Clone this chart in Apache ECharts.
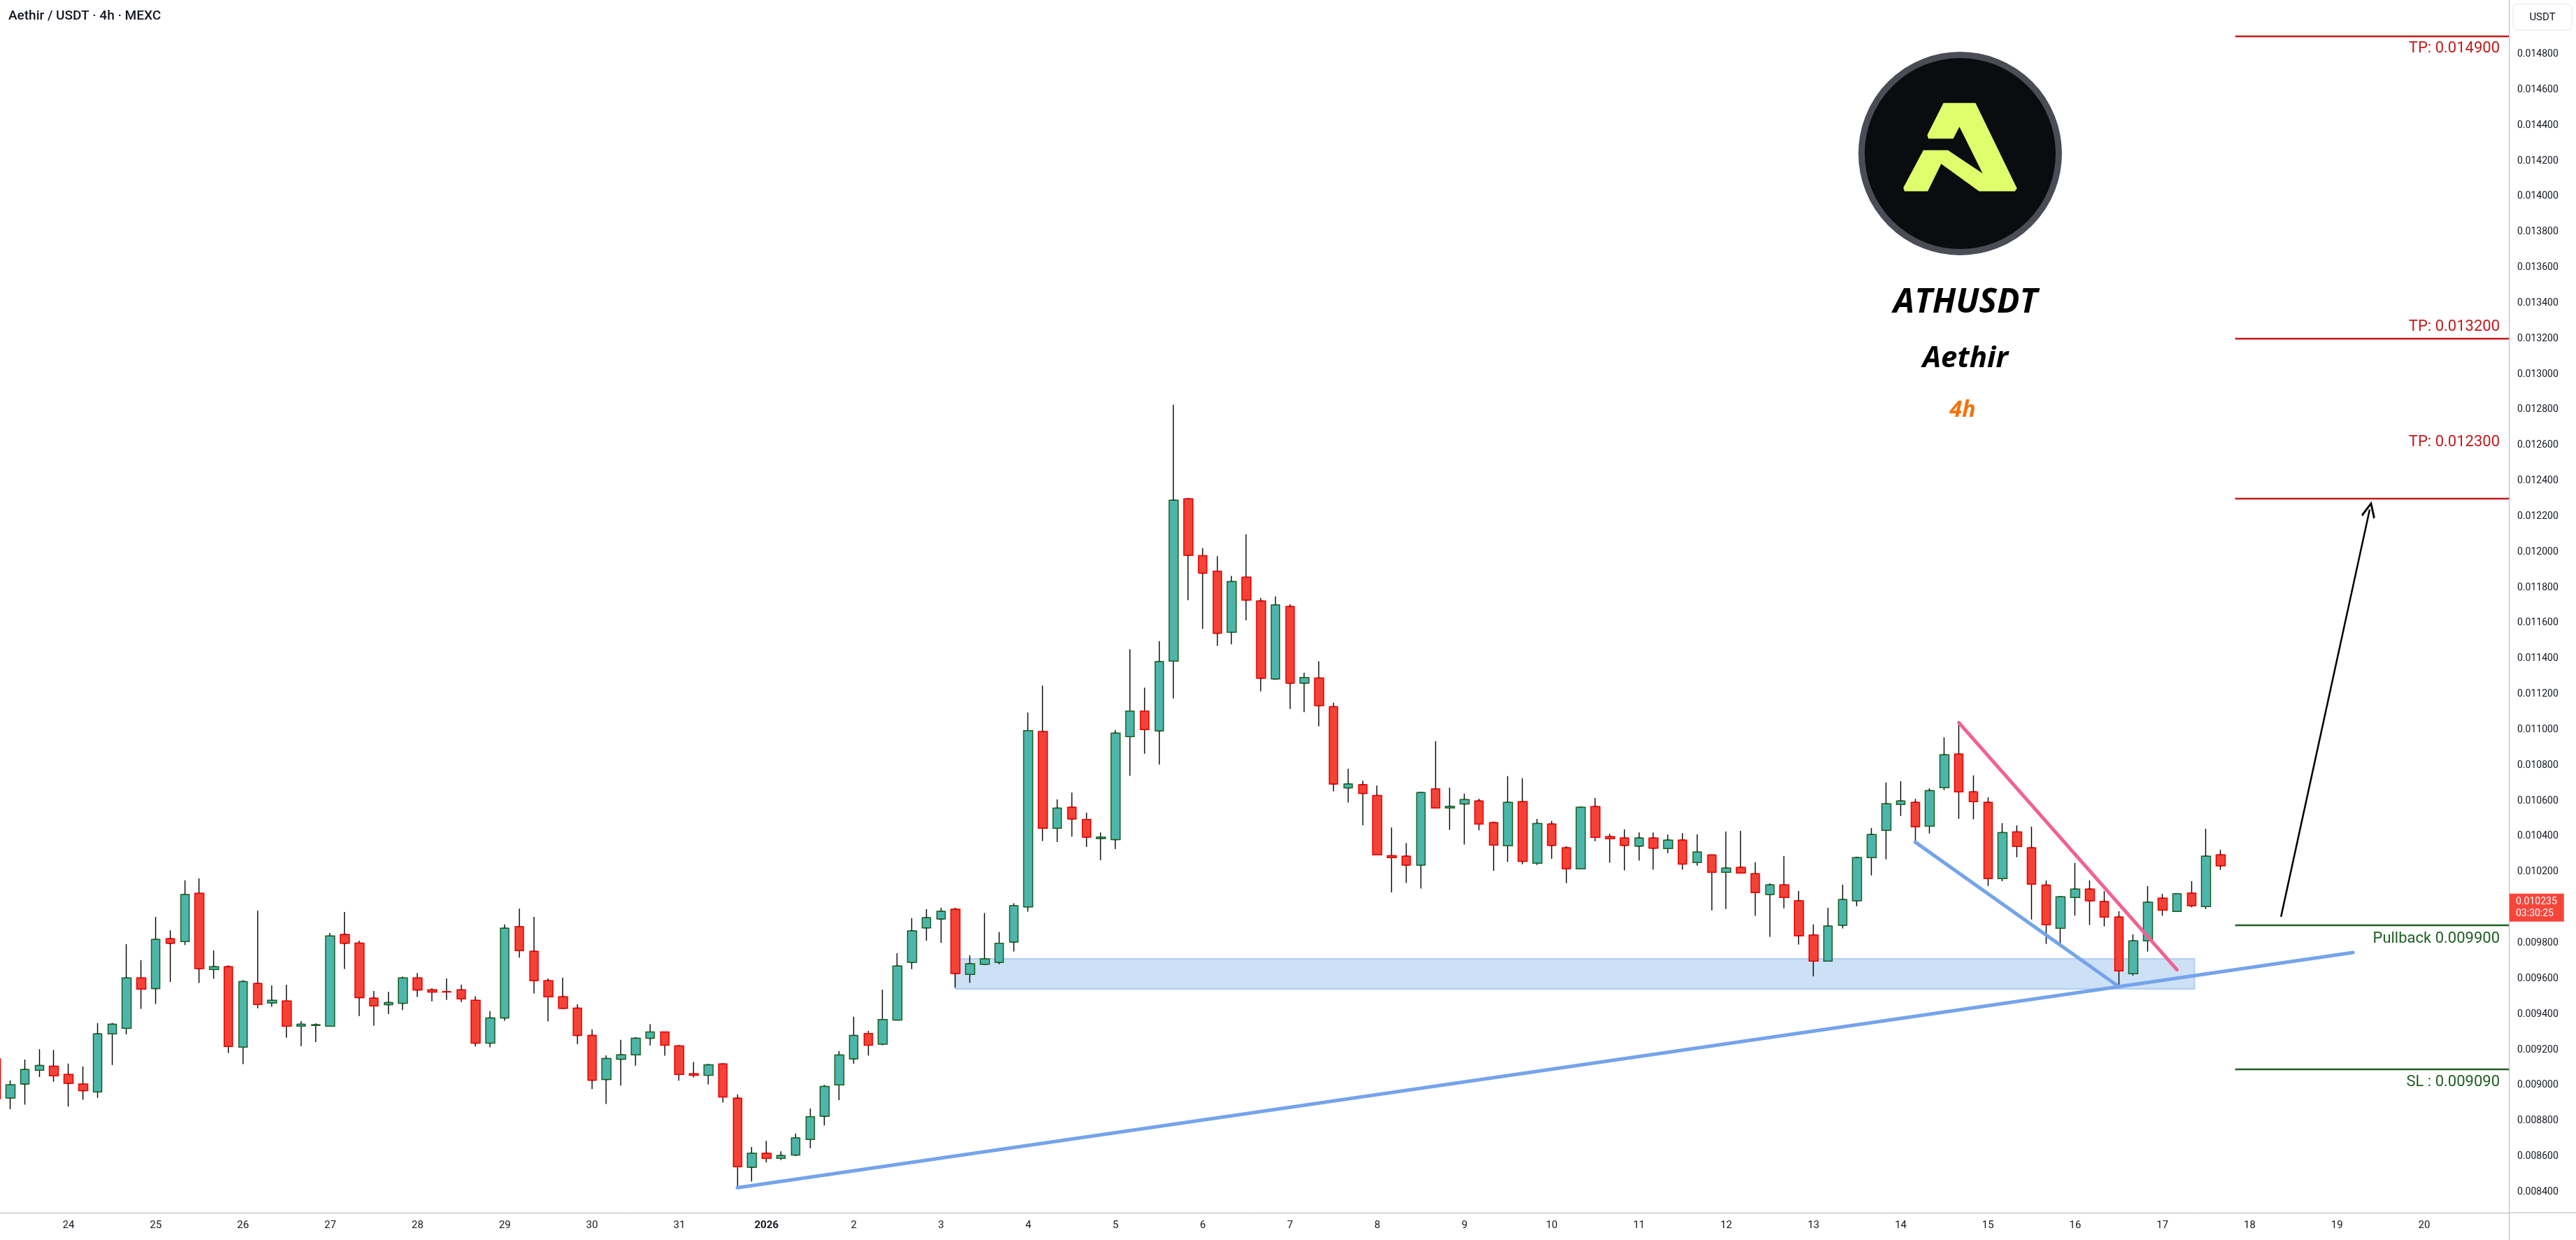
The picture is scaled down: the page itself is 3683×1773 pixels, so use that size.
<!DOCTYPE html>
<html><head><meta charset="utf-8">
<script src="https://cdn.jsdelivr.net/npm/echarts@6/dist/echarts.min.js"></script>
<style>html,body{margin:0;padding:0;background:#fff}#c{width:3683px;height:1773px}</style>
</head><body><div id="c"></div>
<script>
// ---------------- DATA ----------------
// 4h candles, first candle Dec 23 2025 04:00 (UTC), one every 4 hours
const firstCandleUTC = [2025, 11, 23, 4];
const opens = [0.009149,0.008929,0.009007,0.009085,0.009108,0.009061,0.009007,0.008963,0.009290,0.009321,
0.009604,0.009544,0.009825,0.009809,0.010080,0.009652,0.009667,0.009215,0.009573,0.009464,
0.009474,0.009333,0.009337,0.009333,0.009848,0.009800,0.009490,0.009454,0.009462,0.009604,
0.009537,0.009527,0.009537,0.009478,0.009237,0.009379,0.009892,0.009754,0.009589,0.009498,
0.009434,0.009281,0.009033,0.009147,0.009172,0.009265,0.009300,0.009222,0.009065,0.009057,
0.009120,0.008928,0.008539,0.008618,0.008589,0.008608,0.008696,0.008826,0.009002,0.009149,
0.009292,0.009232,0.009367,0.009692,0.009886,0.009936,0.009991,0.009624,0.009681,0.009692,
0.009806,0.010004,0.010990,0.010446,0.010564,0.010495,0.010388,0.010382,0.010962,0.011105,
0.010994,0.011386,0.012299,0.011979,0.011892,0.011549,0.011858,0.011725,0.011286,0.011693,
0.011262,0.011291,0.011130,0.010673,0.010691,0.010630,0.010292,0.010289,0.010239,0.010667,
0.010560,0.010583,0.010600,0.010478,0.010348,0.010596,0.010249,0.010470,0.010336,0.010218,
0.010568,0.010399,0.010391,0.010346,0.010391,0.010332,0.010379,0.010253,0.010296,0.010198,
0.010226,0.010190,0.010073,0.010128,0.010038,0.009845,0.009699,0.009900,0.010038,0.010281,
0.010434,0.010580,0.010592,0.010458,0.010674,0.010863,0.010651,0.010592,0.010163,0.010426,
0.010336,0.010127,0.009884,0.010057,0.010104,0.010034,0.009947,0.009628,0.009813,0.010053,
0.009978,0.010081,0.010006,0.010297];
const closes = [0.008925,0.009003,0.009089,0.009112,0.009054,0.009011,0.008970,0.009290,0.009344,0.009604,
0.009541,0.009821,0.009799,0.010073,0.009656,0.009667,0.009219,0.009584,0.009455,0.009478,
0.009333,0.009344,0.009341,0.009840,0.009799,0.009493,0.009447,0.009466,0.009604,0.009536,
0.009525,0.009525,0.009486,0.009237,0.009379,0.009884,0.009758,0.009589,0.009498,0.009433,
0.009281,0.009029,0.009151,0.009172,0.009265,0.009300,0.009226,0.009061,0.009057,0.009116,
0.008935,0.008542,0.008618,0.008589,0.008605,0.008704,0.008823,0.008994,0.009171,0.009281,
0.009226,0.009370,0.009671,0.009869,0.009943,0.009979,0.009629,0.009684,0.009712,0.009799,
0.010010,0.010995,0.010446,0.010559,0.010498,0.010396,0.010396,0.010981,0.011105,0.011001,
0.011383,0.012291,0.011981,0.011881,0.011543,0.011834,0.011730,0.011290,0.011702,0.011262,
0.011294,0.011136,0.010695,0.010695,0.010642,0.010297,0.010281,0.010239,0.010647,0.010560,
0.010569,0.010607,0.010470,0.010352,0.010592,0.010260,0.010473,0.010350,0.010218,0.010564,
0.010395,0.010387,0.010350,0.010391,0.010334,0.010379,0.010245,0.010312,0.010198,0.010222,
0.010194,0.010084,0.010128,0.010057,0.009841,0.009699,0.009896,0.010045,0.010281,0.010411,
0.010584,0.010600,0.010454,0.010658,0.010859,0.010651,0.010596,0.010163,0.010422,0.010344,
0.010131,0.009903,0.010061,0.010104,0.010038,0.009947,0.009644,0.009813,0.010030,0.009986,
0.010077,0.010010,0.010289,0.010235];
const lows = [0.008870,0.008866,0.008891,0.009047,0.009020,0.008880,0.008919,0.008930,0.009115,0.009287,
0.009430,0.009458,0.009582,0.009789,0.009576,0.009599,0.009181,0.009119,0.009433,0.009442,
0.009268,0.009220,0.009243,0.009330,0.009654,0.009390,0.009336,0.009401,0.009423,0.009497,
0.009473,0.009480,0.009468,0.009219,0.009214,0.009363,0.009718,0.009517,0.009359,0.009430,
0.009232,0.008979,0.008895,0.008998,0.009111,0.009224,0.009167,0.009026,0.009045,0.009005,
0.008903,0.008424,0.008459,0.008566,0.008580,0.008602,0.008646,0.008774,0.008917,0.009121,
0.009168,0.009226,0.009367,0.009653,0.009814,0.009801,0.009549,0.009577,0.009681,0.009681,
0.009753,0.009977,0.010374,0.010368,0.010399,0.010341,0.010266,0.010329,0.010741,0.010865,
0.010804,0.011176,0.011729,0.011567,0.011472,0.011481,0.011616,0.011216,0.011286,0.011117,
0.011099,0.011020,0.010654,0.010591,0.010463,0.010297,0.010085,0.010138,0.010107,0.010560,
0.010437,0.010355,0.010434,0.010206,0.010256,0.010244,0.010240,0.010274,0.010137,0.010218,
0.010373,0.010252,0.010209,0.010264,0.010213,0.010306,0.010213,0.010236,0.009984,0.009992,
0.010194,0.009953,0.009835,0.009996,0.009792,0.009613,0.009699,0.009883,0.010008,0.010181,
0.010271,0.010515,0.010368,0.010417,0.010661,0.010499,0.010496,0.010122,0.010148,0.010283,
0.009933,0.009795,0.009795,0.009954,0.009902,0.009894,0.009555,0.009617,0.009753,0.009954,
0.009978,0.010002,0.009992,0.010212];
const highs = [0.009184,0.009027,0.009145,0.009203,0.009199,0.009122,0.009106,0.009350,0.009352,0.009794,
0.009705,0.009948,0.009872,0.010153,0.010164,0.009759,0.009675,0.009592,0.009983,0.009562,
0.009566,0.009361,0.009349,0.009857,0.009975,0.009814,0.009531,0.009527,0.009612,0.009632,
0.009546,0.009601,0.009566,0.009501,0.009417,0.009905,0.009994,0.009948,0.009601,0.009605,
0.009456,0.009314,0.009169,0.009256,0.009271,0.009345,0.009302,0.009228,0.009131,0.009120,
0.009125,0.008948,0.008653,0.008688,0.008629,0.008729,0.008870,0.009002,0.009193,0.009386,
0.009306,0.009538,0.009743,0.009941,0.009991,0.009999,0.009999,0.009731,0.009969,0.009863,
0.010024,0.011097,0.011249,0.010608,0.010647,0.010534,0.010423,0.010998,0.011453,0.011237,
0.011498,0.012828,0.012300,0.012022,0.011976,0.011865,0.012099,0.011741,0.011750,0.011706,
0.011320,0.011385,0.011152,0.010781,0.010714,0.010686,0.010450,0.010363,0.010647,0.010936,
0.010674,0.010641,0.010612,0.010483,0.010739,0.010727,0.010498,0.010487,0.010345,0.010564,
0.010616,0.010416,0.010440,0.010423,0.010423,0.010411,0.010419,0.010412,0.010296,0.010427,
0.010431,0.010255,0.010136,0.010290,0.010093,0.009905,0.009999,0.010129,0.010286,0.010447,
0.010703,0.010711,0.010611,0.010670,0.010958,0.011027,0.010743,0.010620,0.010475,0.010462,
0.010455,0.010152,0.010061,0.010251,0.010153,0.010092,0.009979,0.009849,0.010121,0.010077,
0.010077,0.010148,0.010443,0.010325];
const lastPrice = 0.010235;
const countdown = '03:30:25';

// axis ticks
const xTickLabels = ['24','25','26','27','28','29','30','31','2026','2','3','4','5','6','7','8','9','10','11','12','13','14','15','16','17','18','19','20'];
const xTickStartUTC = [2025, 11, 24];
const yTickValues = [0.0084,0.0086,0.0088,0.0090,0.0092,0.0094,0.0096,0.0098,0.0100,0.0102,0.0104,0.0106,0.0108,0.0110,
0.0112,0.0114,0.0116,0.0118,0.0120,0.0122,0.0124,0.0126,0.0128,0.0130,0.0132,0.0134,0.0136,0.0138,0.0140,0.0142,0.0144,0.0146,0.0148];

// annotation levels
const levelLabels = ['TP: 0.014900','TP: 0.013200','TP: 0.012300','Pullback 0.009900','SL : 0.009090'];
const levelValues = [0.0149, 0.0132, 0.0123, 0.0099, 0.00909];
const levelKinds = ['tp','tp','tp','sl','sl'];
const levelLabelSide = ['bottom','top','top','bottom','bottom'];
const levelLabelGap = [6, 6, 70, 8, 8];
// slot index = number of 4h steps from Dec 24 00:00
const levelStartSlot = 149;
const zoneSlots = [61, 146.2];
const zonePrices = [0.009712, 0.009542];
const trendMain = [[46, 0.008424], [157.1, 0.009747]];
const trendLower = [[127, 0.010368], [141, 0.009555]];
const trendUpper = [[130, 0.011040], [145, 0.009650]];
const arrowPts = [[152.15, 0.009948], [158.25, 0.012239]];

// ---------------- BUILD ----------------
const H4 = 4 * 3600000, DAY = 86400000;
const T0 = Date.UTC(xTickStartUTC[0], xTickStartUTC[1], xTickStartUTC[2]);
const slot = n => T0 + n * H4;
const firstT = Date.UTC(firstCandleUTC[0], firstCandleUTC[1], firstCandleUTC[2], firstCandleUTC[3]);
const times = opens.map((_, i) => firstT + i * H4);
const xTickTimes = xTickLabels.map((_, i) => T0 + i * DAY);
const xMin = T0 - 0.78563 * DAY, xMax = T0 + 27.970 * DAY;
const yMin = 0.0082835, yMax = 0.0151049;

const wickData = times.map((t, i) => [t, opens[i], closes[i], lows[i], highs[i]]);
const bodyData = times.map((t, i) => [t, opens[i], closes[i], Math.min(opens[i], closes[i]), Math.max(opens[i], closes[i])]);

const FONT = 'Roboto';
const series = [];
series.push({
  type: 'line', data: [], z: 1, silent: true,
  markArea: {
    silent: true, z: 1,
    itemStyle: { color: '#CDE1F6', borderColor: '#B3CEF3', borderWidth: 2 },
    data: [[{ coord: [slot(zoneSlots[0]), zonePrices[0]] }, { coord: [slot(zoneSlots[1]), zonePrices[1]] }]]
  }
});
series.push({
  type: 'candlestick', name: 'wicks', data: wickData, z: 2, barWidth: 6, silent: true, clip: true,
  itemStyle: { color: '#000', color0: '#000', borderColor: '#000', borderColor0: '#000', borderWidth: 1.4 }
});
series.push({
  type: 'candlestick', name: 'bodies', data: bodyData, z: 3, barWidth: 13, silent: true, clip: true,
  itemStyle: { color: '#4DB6AC', color0: '#F44336', borderColor: '#1B5E20', borderColor0: '#E50000', borderWidth: 1.5 },
  markLine: {
    silent: true, symbol: ['none', 'none'],
    lineStyle: { color: 'rgba(0,0,0,0)', width: 0 },
    label: {
      show: true, position: 'end', distance: 1, formatter: lastPrice.toFixed(6) + '\n' + countdown,
      backgroundColor: '#F7453A', color: '#fff', fontSize: 14, fontFamily: FONT, lineHeight: 17,
      padding: [3, 10, 3, 9], align: 'left'
    },
    data: [{ yAxis: lastPrice }]
  }
});
function trend(pts, color) {
  return {
    type: 'line', z: 6, silent: true, symbol: 'none',
    data: pts.map(p => [slot(p[0]), p[1]]),
    lineStyle: { color, width: 5, cap: 'round' }
  };
}
series.push(trend(trendMain, '#74A4EB'));
series.push(trend(trendLower, '#74A4EB'));
series.push(trend(trendUpper, '#F0628F'));
levelValues.forEach((v, i) => {
  const color = levelKinds[i] === 'tp' ? '#C21A1A' : '#1D5E21';
  series.push({
    type: 'line', z: 7, silent: true, symbol: 'circle', symbolSize: 0, showSymbol: true,
    lineStyle: { color, width: 2.5 },
    data: [[slot(levelStartSlot), v], {
      value: [xMax, v],
      label: {
        show: true, formatter: levelLabels[i], position: levelLabelSide[i], distance: levelLabelGap[i],
        align: 'right', offset: [-13, 0], color, fontSize: 22, fontFamily: FONT
      }
    }]
  });
});
series.push({
  type: 'line', data: [], z: 8, silent: true,
  markLine: {
    silent: true, z: 8,
    symbol: ['none', 'path://M0,0 L12,16 L9.6,18 L0,5 L-9.6,18 L-12,16 Z'],
    symbolSize: [20, 24],
    label: { show: false },
    lineStyle: { color: '#000', width: 2.5, type: 'solid' },
    data: [[{ coord: [slot(arrowPts[0][0]), arrowPts[0][1]] }, { coord: [slot(arrowPts[1][0]), arrowPts[1][1]] }]]
  }
});

const logoPts = [[2778.6,147.2],[2824.5,147.2],[2883.8,269.5],[2880.6,273.6],[2829.6,273.6],[2775.4,234.2],[2756.2,273.6],[2723,273.6],[2721.2,268.5],[2749.9,214.8],[2785,214.8],[2834.7,247.9],[2801.5,181.2],[2792.6,198.2],[2757,198.2],[2755.5,193]];

const option = {
  animation: false,
  backgroundColor: '#ffffff',
  textStyle: { fontFamily: FONT },
  grid: { left: 0, right: 96, top: 0, bottom: 39, outerBoundsMode: 'none', containLabel: false },
  xAxis: {
    type: 'value', min: xMin, max: xMax, scale: true,
    splitLine: { show: false },
    axisLine: { show: true, lineStyle: { color: '#B2B5BE', width: 1 } },
    axisTick: { show: false },
    axisLabel: {
      customValues: xTickTimes, margin: 11, color: '#131722', fontSize: 15, fontFamily: FONT,
      formatter: (v) => {
        const idx = xTickTimes.indexOf(v);
        const s = idx >= 0 ? xTickLabels[idx] : '';
        return s === '2026' ? '{b|2026}' : s;
      },
      rich: { b: { fontWeight: 'bold', fontSize: 15, color: '#131722', fontFamily: FONT } }
    }
  },
  yAxis: {
    type: 'value', position: 'right', min: yMin, max: yMax, scale: true,
    splitLine: { show: false },
    axisLine: { show: true, lineStyle: { color: '#B2B5BE', width: 1 } },
    axisTick: { show: false },
    axisLabel: {
      customValues: yTickValues, margin: 12, color: '#131722', fontSize: 14, fontFamily: FONT,
      formatter: v => v.toFixed(6)
    }
  },
  series,
  graphic: [
    { type: 'text', left: 12, top: 14, style: { text: 'Aethir / USDT · 4h · MEXC', fill: '#131722', font: '500 19px Roboto' } },
    { type: 'rect', shape: { x: 3593, y: 6, width: 84, height: 37, r: 6 }, style: { fill: '#fff', stroke: '#E0E3EB', lineWidth: 1 } },
    { type: 'text', x: 3635, y: 25, style: { text: 'USDT', fill: '#131722', font: '15px Roboto', align: 'center', verticalAlign: 'middle' } },
    { type: 'line', shape: { x1: 3587, y1: 1734, x2: 3683, y2: 1734 }, style: { stroke: '#B2B5BE', lineWidth: 1 } },
    { type: 'line', shape: { x1: 3587.5, y1: 1734, x2: 3587.5, y2: 1773 }, style: { stroke: '#B2B5BE', lineWidth: 1 } },
    { type: 'circle', shape: { cx: 2802.5, cy: 219.5, r: 141 }, style: { fill: '#0A0C0F', stroke: '#4A4D56', lineWidth: 9 } },
    { type: 'polygon', shape: { points: logoPts }, style: { fill: '#DFFE6C' } },
    { type: 'text', x: 2810, y: 433, style: { text: 'ATHUSDT', fill: '#000', font: 'italic bold 48px "Open Sans"', align: 'center', verticalAlign: 'middle' } },
    { type: 'text', x: 2810, y: 513, style: { text: 'Aethir', fill: '#000', font: 'italic bold 42px "Open Sans"', align: 'center', verticalAlign: 'middle' } },
    { type: 'text', x: 2806, y: 587, style: { text: '4h', fill: '#F7700A', font: 'italic bold 32px "Open Sans"', align: 'center', verticalAlign: 'middle' } }
  ]
};
const chart = echarts.init(document.getElementById('c'), null, { width: 3683, height: 1773 });
chart.setOption(option);
</script>
</body></html>
